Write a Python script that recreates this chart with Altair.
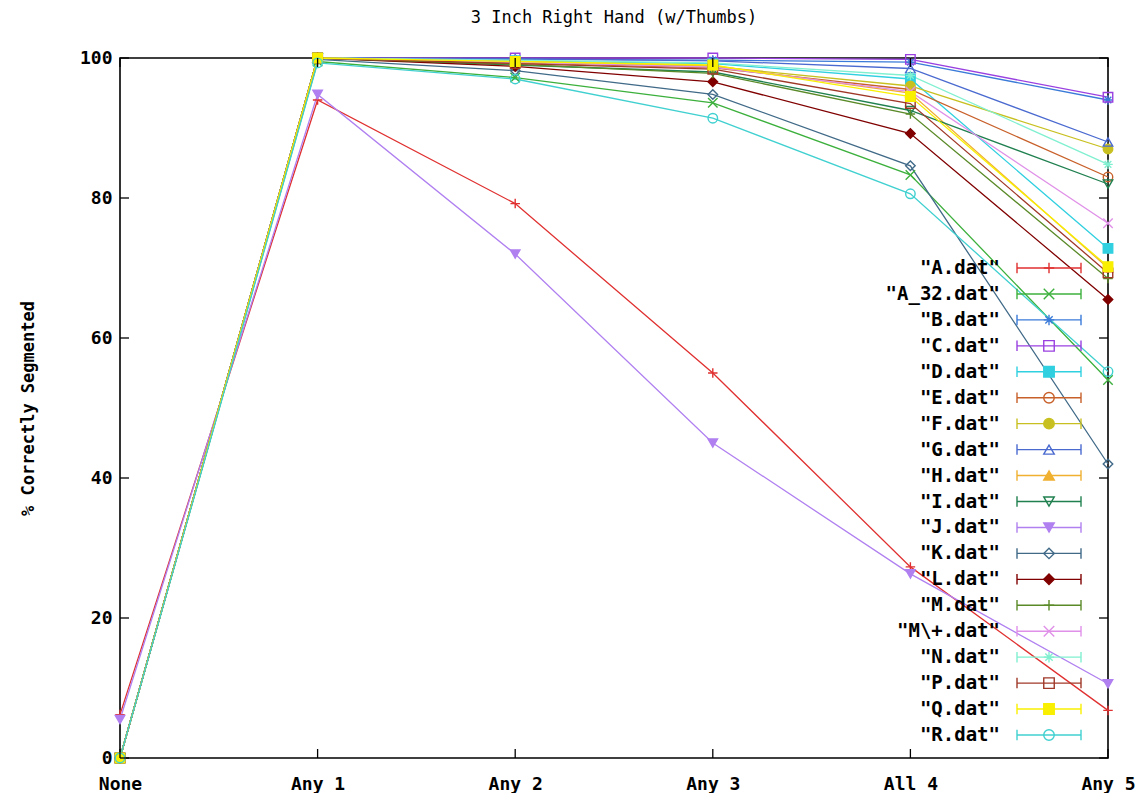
import altair as alt
import pandas as pd

categories = ["None", "Any 1", "Any 2", "Any 3", "All 4", "Any 5"]

series_names = ["A.dat", "A_32.dat", "B.dat", "C.dat", "D.dat", "E.dat", "F.dat",
                "G.dat", "H.dat", "I.dat", "J.dat", "K.dat", "L.dat", "M.dat",
                "M\\+.dat", "N.dat", "P.dat", "Q.dat", "R.dat"]

A_vals = [6.2, 94.0, 79.2, 55.0, 27.3, 6.8]
A32_vals = [0.0, 99.5, 97.2, 93.6, 83.3, 54.0]
B_vals = [0.0, 100.0, 99.8, 99.7, 99.4, 94.0]
C_vals = [0.0, 100.0, 100.0, 100.0, 99.8, 94.4]
D_vals = [0.0, 100.0, 99.6, 99.2, 97.0, 72.8]
E_vals = [0.0, 100.0, 99.3, 98.6, 95.5, 83.0]
F_vals = [0.0, 100.0, 99.4, 98.8, 96.0, 87.0]
G_vals = [0.0, 100.0, 99.9, 99.6, 98.5, 88.0]
H_vals = [0.0, 100.0, 99.5, 98.9, 95.0, 70.0]
I_vals = [0.0, 100.0, 99.0, 98.0, 92.5, 82.0]
J_vals = [5.5, 94.8, 72.0, 45.0, 26.3, 10.6]
K_vals = [0.0, 99.8, 98.2, 94.8, 84.6, 42.0]
L_vals = [0.0, 100.0, 98.8, 96.6, 89.2, 65.5]
M_vals = [0.0, 100.0, 99.1, 97.8, 92.0, 68.5]
Mp_vals = [0.0, 100.0, 99.4, 98.7, 95.2, 76.4]
N_vals = [0.0, 100.0, 99.7, 99.3, 97.5, 84.8]
P_vals = [0.0, 100.0, 99.2, 98.4, 93.5, 69.3]
Q_vals = [0.0, 100.0, 99.5, 99.0, 94.5, 70.2]
R_vals = [0.0, 99.3, 97.0, 91.4, 80.6, 55.2]

all_vals = [A_vals, A32_vals, B_vals, C_vals, D_vals, E_vals, F_vals, G_vals,
            H_vals, I_vals, J_vals, K_vals, L_vals, M_vals, Mp_vals, N_vals,
            P_vals, Q_vals, R_vals]

colors = ["#e03030", "#3cb03c", "#3a7ad8", "#9a40e0", "#30d0e0", "#c8602a",
          "#c8c020", "#4a6ad0", "#f0b030", "#208050", "#b080f0", "#406a88",
          "#800000", "#5a8a28", "#e090e8", "#80f0d0", "#a03828", "#f8f000",
          "#40d0d0"]

PLUS = "M-1,0L1,0M0,-1L0,1"
XSH = "M-1,-1L1,1M-1,1L1,-1"
STAR = "M-1,0L1,0M0,-1L0,1M-0.7,-0.7L0.7,0.7M-0.7,0.7L0.7,-0.7"
shapes = [PLUS, XSH, STAR, "square", "square", "circle", "circle",
          "triangle-up", "triangle-up", "triangle-down", "triangle-down",
          "diamond", "diamond", PLUS, XSH, STAR, "square", "square", "circle"]
filled = [False, False, False, False, True, False, True, False, True, False,
          True, False, True, False, False, False, False, True, False]
fills = [c if f else "transparent" for c, f in zip(colors, filled)]

y_ticks = [0, 20, 40, 60, 80, 100]

rows = []
for name, vals in zip(series_names, all_vals):
    for cat, v in zip(categories, vals):
        rows.append({"s": name, "cat": cat, "val": v})
df = pd.DataFrame(rows)

leg = pd.DataFrame({"s": series_names,
                    "idx": list(range(len(series_names))),
                    "label": ['"' + n + '"' for n in series_names]})

W, H = 988, 700
FONT = "DejaVu Sans Mono"

color_scale = alt.Scale(domain=series_names, range=colors)
shape_scale = alt.Scale(domain=series_names, range=shapes)
fill_scale = alt.Scale(domain=series_names, range=fills)

x_enc = alt.X("cat:N", sort=categories,
              scale=alt.Scale(type="point", padding=0, domain=categories),
              axis=alt.Axis(title=None, labelAngle=0, labelPadding=17,
                            labelFont=FONT, labelFontWeight="bold",
                            labelFontSize=18, labelColor="black",
                            ticks=False, domain=False, grid=False))
y_enc = alt.Y("val:Q", scale=alt.Scale(domain=[0, 100], nice=False, zero=True),
              axis=alt.Axis(title="% Correctly Segmented", values=y_ticks,
                            labelFont=FONT, labelFontWeight="bold",
                            labelFontSize=18, labelColor="black",
                            labelPadding=8, ticks=False, domain=False,
                            grid=False, titleFont=FONT, titleFontSize=17,
                            titleFontWeight="bold", titleColor="black",
                            titlePadding=42))

lines = alt.Chart(df).mark_line(strokeWidth=1.3).encode(
    x=x_enc, y=y_enc,
    color=alt.Color("s:N", scale=color_scale, legend=None),
)

points = alt.Chart(df).mark_point(filled=True, size=90, strokeWidth=1.4,
                                  opacity=1).encode(
    x=alt.X("cat:N", sort=categories),
    y=alt.Y("val:Q"),
    shape=alt.Shape("s:N", scale=shape_scale, legend=None),
    stroke=alt.Stroke("s:N", scale=color_scale, legend=None),
    fill=alt.Fill("s:N", scale=fill_scale, legend=None),
)

tick_df = pd.DataFrame({"t": y_ticks})
left_ticks = alt.Chart(tick_df).mark_rule(color="black", strokeWidth=1.3).encode(
    y=alt.Y("t:Q"), x=alt.value(0), x2=alt.value(9))
right_ticks = alt.Chart(tick_df).mark_rule(color="black", strokeWidth=1.3).encode(
    y=alt.Y("t:Q"), x=alt.value(W - 9), x2=alt.value(W))

cat_df = pd.DataFrame({"cat": categories})
bottom_ticks = alt.Chart(cat_df).mark_rule(color="black", strokeWidth=1.3).encode(
    x=alt.X("cat:N", sort=categories), y=alt.value(H - 9), y2=alt.value(H))
top_ticks = alt.Chart(cat_df).mark_rule(color="black", strokeWidth=1.3).encode(
    x=alt.X("cat:N", sort=categories), y=alt.value(0), y2=alt.value(9))

main = alt.layer(lines, points, left_ticks, right_ticks, bottom_ticks, top_ticks)

leg_y = alt.Y("idx:Q", scale=alt.Scale(domain=[0, 18], range=[210, 677]),
              axis=None)

leg_text = alt.Chart(leg).mark_text(align="right", baseline="middle",
                                    font=FONT, fontWeight="bold", fontSize=19,
                                    color="black").encode(
    x=alt.value(880), y=leg_y, text="label:N")
leg_line = alt.Chart(leg).mark_rule(strokeWidth=1.4).encode(
    x=alt.value(897), x2=alt.value(961), y=leg_y,
    color=alt.Color("s:N", scale=color_scale, legend=None))
leg_cap1 = alt.Chart(leg).mark_point(shape="M0,-1L0,1", size=110,
                                     strokeWidth=1.4, filled=False,
                                     opacity=1).encode(
    x=alt.value(897), y=leg_y,
    stroke=alt.Stroke("s:N", scale=color_scale, legend=None))
leg_cap2 = alt.Chart(leg).mark_point(shape="M0,-1L0,1", size=110,
                                     strokeWidth=1.4, filled=False,
                                     opacity=1).encode(
    x=alt.value(961), y=leg_y,
    stroke=alt.Stroke("s:N", scale=color_scale, legend=None))
leg_mark = alt.Chart(leg).mark_point(filled=True, size=110, strokeWidth=1.4,
                                     opacity=1).encode(
    x=alt.value(929), y=leg_y,
    shape=alt.Shape("s:N", scale=shape_scale, legend=None),
    stroke=alt.Stroke("s:N", scale=color_scale, legend=None),
    fill=alt.Fill("s:N", scale=fill_scale, legend=None))

legend = alt.layer(leg_line, leg_cap1, leg_cap2, leg_mark, leg_text)

chart = alt.layer(main, legend).resolve_scale(y="independent").properties(
    width=W, height=H,
    title=alt.Title("3 Inch Right Hand (w/Thumbs)", font=FONT, fontSize=17,
                    fontWeight="normal", color="black", anchor="middle",
                    offset=22),
    autosize=alt.AutoSizeParams(type="none"),
    padding={"left": 112, "top": 50, "right": 31, "bottom": 35},
    background="white",
).configure_view(stroke="black", strokeWidth=1.6)

chart.save("out.html", embed_options={"renderer": "svg", "actions": False})
